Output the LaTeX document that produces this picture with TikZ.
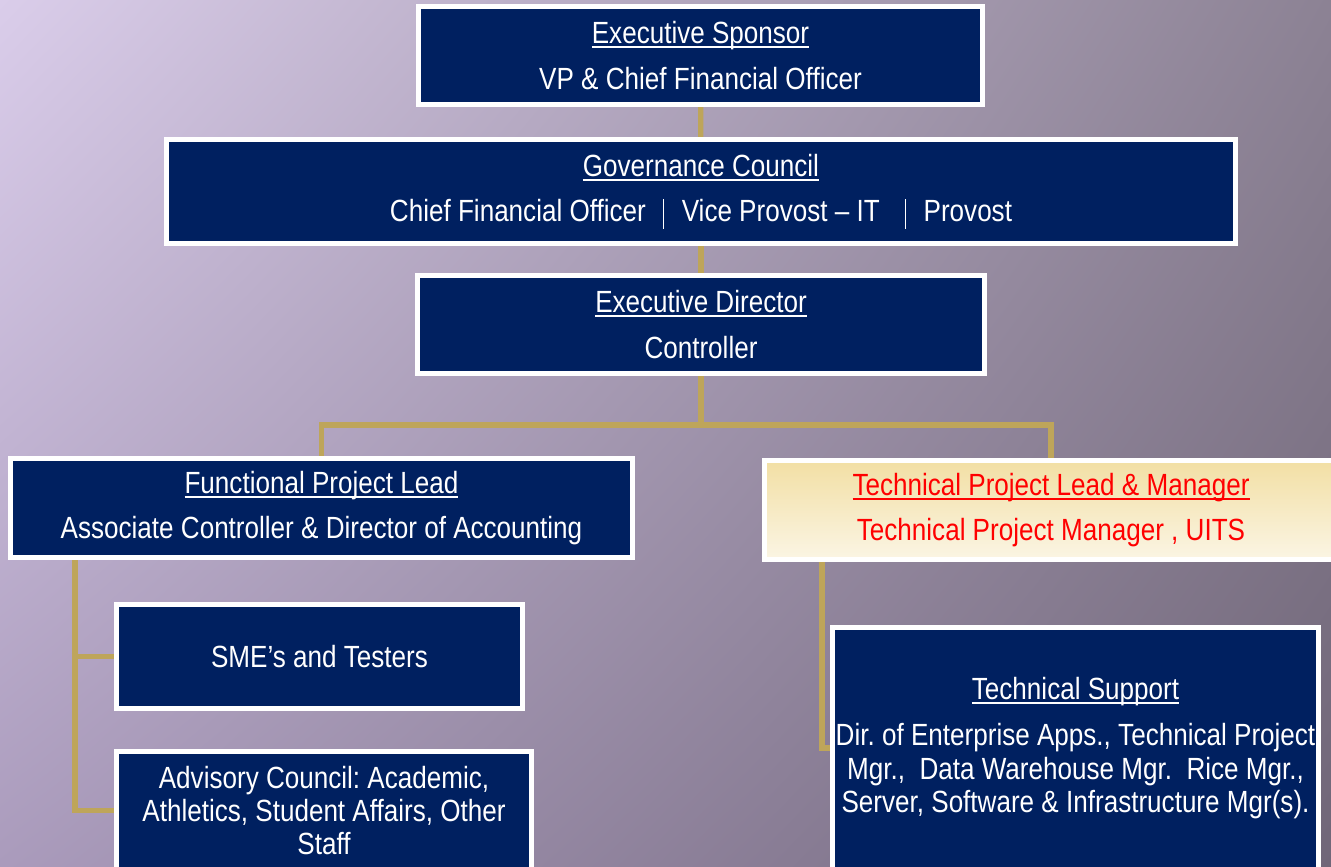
\documentclass[tikz,border=0pt]{standalone}
\usepackage{fontspec}
\setmainfont{Liberation Sans}[FakeStretch=0.85]
\usetikzlibrary{shadings}
\pgfdeclarelayer{bg}
\pgfdeclarelayer{lines}
\pgfsetlayers{bg,lines,main}
\definecolor{navy}{RGB}{0,32,96}
\definecolor{gold}{RGB}{190,165,90}
\definecolor{bgtl}{RGB}{218,205,234}
\definecolor{bgtr}{RGB}{140,130,148}
\definecolor{bgbl}{RGB}{170,155,188}
\definecolor{bgbr}{RGB}{112,102,120}
\definecolor{leadtop}{RGB}{242,223,164}
\definecolor{leadbot}{RGB}{251,245,228}
\newcommand\hd[1]{\setbox0\hbox{#1}\leavevmode\rlap{\rule[-3.5pt]{\wd0}{1.7pt}}\box0}
\newcommand\sep[1]{\hspace*{#1}\rule[-5pt]{0.9pt}{22pt}\hspace*{13pt}}
\frenchspacing
\begin{document}
\begin{tikzpicture}[x=0.75pt,y=-0.75pt,
  unit/.style={draw=white, line width=3.75pt, fill=navy, text=white, align=center,
    inner sep=0pt, font=\fontsize{23}{34}\selectfont},
  link/.style={draw=gold, line width=4pt}]

\begin{pgfonlayer}{bg}
\shade[upper left=bgtl, upper right=bgtr, lower left=bgbl, lower right=bgbr]
  (0,0) rectangle (1331,867);
\end{pgfonlayer}
\useasboundingbox (0,0) rectangle (1331,867);
\clip (0,0) rectangle (1331,867);

\node[unit, minimum width=423pt, minimum height=73.5pt] (sponsor) at (700.5,55.5)
  {\hd{Executive Sponsor}\\VP \& Chief Financial Officer};
\node[unit, minimum width=801.75pt, minimum height=78pt] (council) at (701,191.5)
  {\hd{Governance Council}\\Chief Financial Officer\sep{13pt}Vice Provost -- IT\sep{19pt}Provost};
\node[unit, minimum width=425.25pt, minimum height=73.5pt] (director) at (701,324.5)
  {\hd{Executive Director}\\Controller};
\node[unit, minimum width=466.5pt, minimum height=74.25pt] (functional) at (321.5,508)
  {\hd{Functional Project Lead}\\Associate Controller \& Director of Accounting};
\node[unit, shading=axis, top color=leadtop, bottom color=leadbot, text=red,
  minimum width=429.75pt, minimum height=74.25pt] (techlead) at (1051,510)
  {\hd{Technical Project Lead \& Manager}\\Technical Project Manager , UITS};
\node[unit, minimum width=304.5pt, minimum height=78pt] (sme) at (319.5,656.5)
  {SME's and Testers};
\node[unit, minimum width=311.25pt, minimum height=88.5pt,
  font=\fontsize{23}{25}\selectfont] (advisory) at (324,810.5)
  {Advisory Council: Academic,\\Athletics, Student Affairs, Other\\Staff};
\node[unit, minimum width=364.5pt, minimum height=181.5pt,
  font=\fontsize{23}{25}\selectfont] (support) at (1075.5,748)
  {\hd{Technical Support}\\[10pt]Dir. of Enterprise Apps., Technical Project\\
   Mgr.,\ \ Data Warehouse Mgr.\ \ Rice Mgr.,\\Server, Software \& Infrastructure Mgr(s).};

\coordinate (split) at (701,425);
\coordinate (fbus) at (75,0);
\coordinate (tbus) at (822,0);

\begin{pgfonlayer}{lines}
\path[link] (sponsor) -- (council);
\path[link] (council) -- (director);
\path[link] (director) -- (split) -| (functional);
\path[link] (split) -| (techlead);
\path[link] (functional.south -| fbus) |- (sme.west);
\path[link] (functional.south -| fbus) |- (advisory.west);
\path[link] (techlead.south -| tbus) |- (support.west);
\end{pgfonlayer}

\end{tikzpicture}
\end{document}
